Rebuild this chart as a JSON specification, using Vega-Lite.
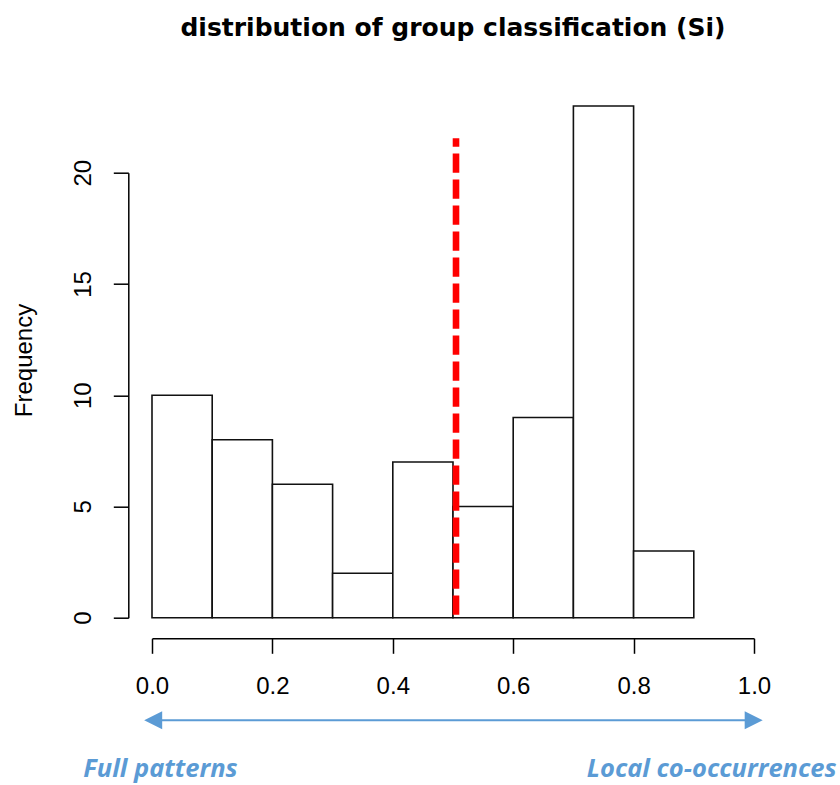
{
  "$schema": "https://vega.github.io/schema/vega-lite/v6.json",
  "autosize": "none",
  "width": 602,
  "height": 445,
  "padding": {"left": 152, "top": 172.7, "right": 86, "bottom": 167.3},
  "background": "white",
  "config": {"view": {"stroke": null}, "scale": {"continuousPadding": 0}},
  "title": {
    "text": "distribution of group classification (Si)",
    "anchor": "middle",
    "frame": "group",
    "font": "DejaVu Sans",
    "fontSize": 25,
    "fontWeight": "bold",
    "color": "black",
    "baseline": "alphabetic",
    "offset": 44.5
  },
  "data": {
    "values": [
      {"bin_start": 0.0, "bin_end": 0.1, "count": 10},
      {"bin_start": 0.1, "bin_end": 0.2, "count": 8},
      {"bin_start": 0.2, "bin_end": 0.3, "count": 6},
      {"bin_start": 0.3, "bin_end": 0.4, "count": 2},
      {"bin_start": 0.4, "bin_end": 0.5, "count": 7},
      {"bin_start": 0.5, "bin_end": 0.6, "count": 5},
      {"bin_start": 0.6, "bin_end": 0.7, "count": 9},
      {"bin_start": 0.7, "bin_end": 0.8, "count": 23},
      {"bin_start": 0.8, "bin_end": 0.9, "count": 3}
    ]
  },
  "layer": [
    {
      "mark": {"type": "bar", "fill": "white", "stroke": "#111111", "strokeWidth": 1.6, "binSpacing": 0, "orient": "vertical"},
      "encoding": {
        "x": {
          "field": "bin_start",
          "type": "quantitative",
          "scale": {"domain": [0, 1], "nice": false, "zero": false, "padding": 0},
          "axis": {
            "values": [0, 0.2, 0.4, 0.6, 0.8, 1.0],
            "format": ".1f",
            "title": null,
            "grid": false,
            "offset": 20.6,
            "tickSize": 15,
            "tickColor": "black",
            "tickWidth": 1.5,
            "domainColor": "black",
            "domainWidth": 1.5,
            "labelFont": "Liberation Sans",
            "labelFontSize": 24,
            "labelColor": "black",
            "labelAngle": 0,
            "labelAlign": "center",
            "labelBaseline": "alphabetic",
            "labelPadding": 40,
            "labelFlush": false,
            "labelOverlap": false,
            "labelBound": false
          }
        },
        "x2": {"field": "bin_end"},
        "y": {
          "field": "count",
          "type": "quantitative",
          "scale": {"domain": [0, 20], "nice": false, "zero": true, "padding": 0},
          "axis": {
            "values": [0, 5, 10, 15, 20],
            "title": "Frequency",
            "grid": false,
            "offset": 23.7,
            "tickSize": 15,
            "tickColor": "black",
            "tickWidth": 1.5,
            "domainColor": "black",
            "domainWidth": 1.5,
            "labelFont": "Liberation Sans",
            "labelFontSize": 24,
            "labelColor": "black",
            "labelAngle": 270,
            "labelAlign": "center",
            "labelBaseline": "alphabetic",
            "labelPadding": 22.5,
            "labelFlush": false,
            "labelOverlap": false,
            "labelBound": false,
            "titleFont": "Liberation Sans",
            "titleFontSize": 24,
            "titleFontWeight": "normal",
            "titleColor": "black",
            "titleAngle": 270,
            "titleAlign": "center",
            "titleBaseline": "alphabetic",
            "titleX": -97.3,
            "titleY": 187.3
          }
        },
        "y2": {"datum": 0}
      }
    },
    {
      "data": {"values": [{}]},
      "mark": {"type": "rule", "color": "#ff0000", "strokeWidth": 6.6, "strokeDash": [19.3, 6.7], "strokeDashOffset": 23, "strokeCap": "butt"},
      "encoding": {
        "x": {"datum": 0.505, "type": "quantitative"},
        "y": {"datum": 0, "type": "quantitative"},
        "y2": {"datum": 21.55}
      }
    },
    {
      "data": {"values": [{}]},
      "mark": {"type": "rule", "color": "#5b9bd5", "strokeWidth": 2},
      "encoding": {
        "x": {"datum": 0, "type": "quantitative"},
        "x2": {"datum": 1},
        "y": {"datum": -4.61, "type": "quantitative"}
      }
    },
    {
      "data": {"values": [{}]},
      "mark": {"type": "point", "filled": true, "opacity": 1, "color": "#5b9bd5", "shape": "M1,-1L-1,0L1,1Z", "size": 324, "strokeWidth": 0},
      "encoding": {
        "x": {"datum": 0.002, "type": "quantitative"},
        "y": {"datum": -4.61, "type": "quantitative"}
      }
    },
    {
      "data": {"values": [{}]},
      "mark": {"type": "point", "filled": true, "opacity": 1, "color": "#5b9bd5", "shape": "M-1,-1L1,0L-1,1Z", "size": 324, "strokeWidth": 0},
      "encoding": {
        "x": {"datum": 0.9995, "type": "quantitative"},
        "y": {"datum": -4.61, "type": "quantitative"}
      }
    },
    {
      "data": {"values": [{}]},
      "mark": {"type": "text", "text": "Full patterns", "font": "Open Sans", "fontSize": 25.5, "fontWeight": "bold", "fontStyle": "italic", "color": "#5b9bd5", "align": "center", "baseline": "alphabetic"},
      "encoding": {
        "x": {"datum": 0.0141, "type": "quantitative"},
        "y": {"datum": -7.17, "type": "quantitative"}
      }
    },
    {
      "data": {"values": [{}]},
      "mark": {"type": "text", "text": "Local co-occurrences", "font": "Open Sans", "fontSize": 25.5, "fontWeight": "bold", "fontStyle": "italic", "color": "#5b9bd5", "align": "center", "baseline": "alphabetic"},
      "encoding": {
        "x": {"datum": 0.9297, "type": "quantitative"},
        "y": {"datum": -7.17, "type": "quantitative"}
      }
    }
  ]
}
